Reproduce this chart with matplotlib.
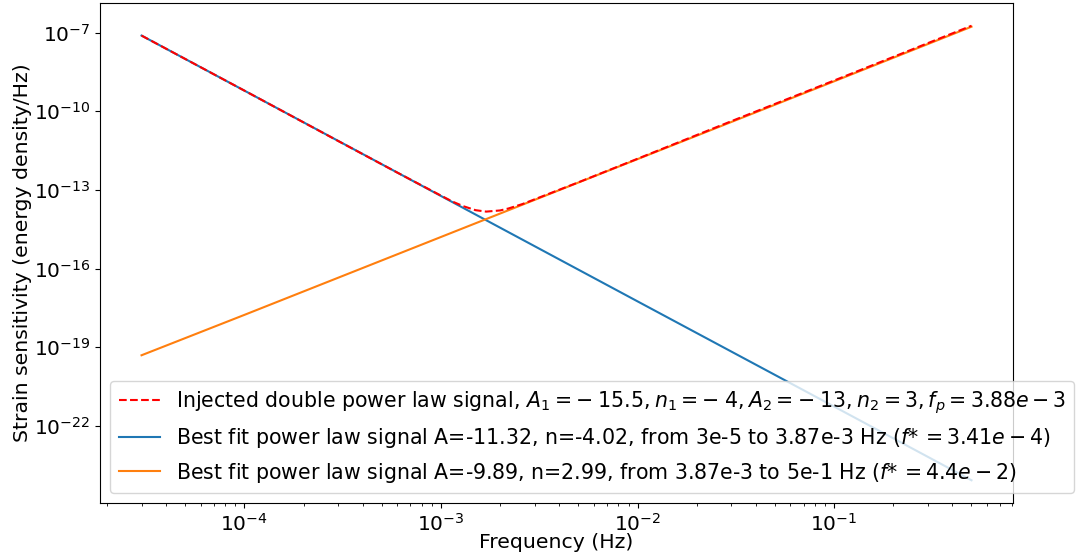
import numpy as np
import matplotlib
matplotlib.use("Agg")
import matplotlib.pyplot as plt

# values (Hz, energy density/Hz)
f_inj = np.array([3e-5, 1e-4, 3e-4, 6e-4, 1e-3, 1.15e-3, 1.3e-3, 1.5e-3, 1.7e-3,
                  2e-3, 2.2e-3, 2.6e-3, 3e-3, 5e-3, 1e-2, 3e-2, 1e-1, 5e-1])
s_inj = np.array([7.8e-8, 6.2e-10, 7.4e-12, 4.6e-13, 6.1e-14, 3.55e-14, 2.4e-14, 1.69e-14, 1.49e-14,
                  1.65e-14, 1.95e-14, 2.9e-14, 4.4e-14, 1.95e-13, 1.55e-12, 4.2e-11, 1.5e-9, 1.85e-7])

f_fit = np.array([3e-5, 1e-4, 1e-3, 1e-2, 1e-1, 5e-1])
s_fit1 = np.array([7.8e-8, 6.2e-10, 5.9e-14, 5.6e-18, 5.4e-22, 8.3e-25])
s_fit2 = np.array([4.9e-20, 1.7e-18, 1.6e-15, 1.5e-12, 1.4e-9, 1.7e-7])

lab_inj = (r"Injected double power law signal, "
           r"$A_1=-\;15.5, n_1=-\;4, A_2=-\;13, n_2=3, f_p=3.88e-3$")
lab_fit1 = r"Best fit power law signal A=-11.32, n=-4.02, from 3e-5 to 3.87e-3 Hz ($f{*}\,=3.41e-4$)"
lab_fit2 = r"Best fit power law signal A=-9.89, n=2.99, from 3.87e-3 to 5e-1 Hz ($f{*}\,=4.4e-2$)"

fig, ax = plt.subplots(figsize=(10.78, 5.6), dpi=100)
fig.subplots_adjust(left=0.0928, right=0.9397, top=0.9946, bottom=0.1018)

ax.loglog(f_inj, s_inj, "r--", label=lab_inj, zorder=3)
ax.loglog(f_fit, s_fit1, label=lab_fit1)
ax.loglog(f_fit, s_fit2, label=lab_fit2)

ax.set_xlabel("Frequency (Hz)", fontsize=14.7)
ax.set_ylabel("Strain sensitivity (energy density/Hz)", fontsize=14.7)
ax.xaxis.set_label_coords(0.5, -0.061)
ax.yaxis.set_label_coords(-0.0745, 0.5)
ax.tick_params(axis="both", which="major", labelsize=14.5)

ax.legend(loc="lower left", fontsize=14.77)

fig.savefig("out.png", dpi=100)
